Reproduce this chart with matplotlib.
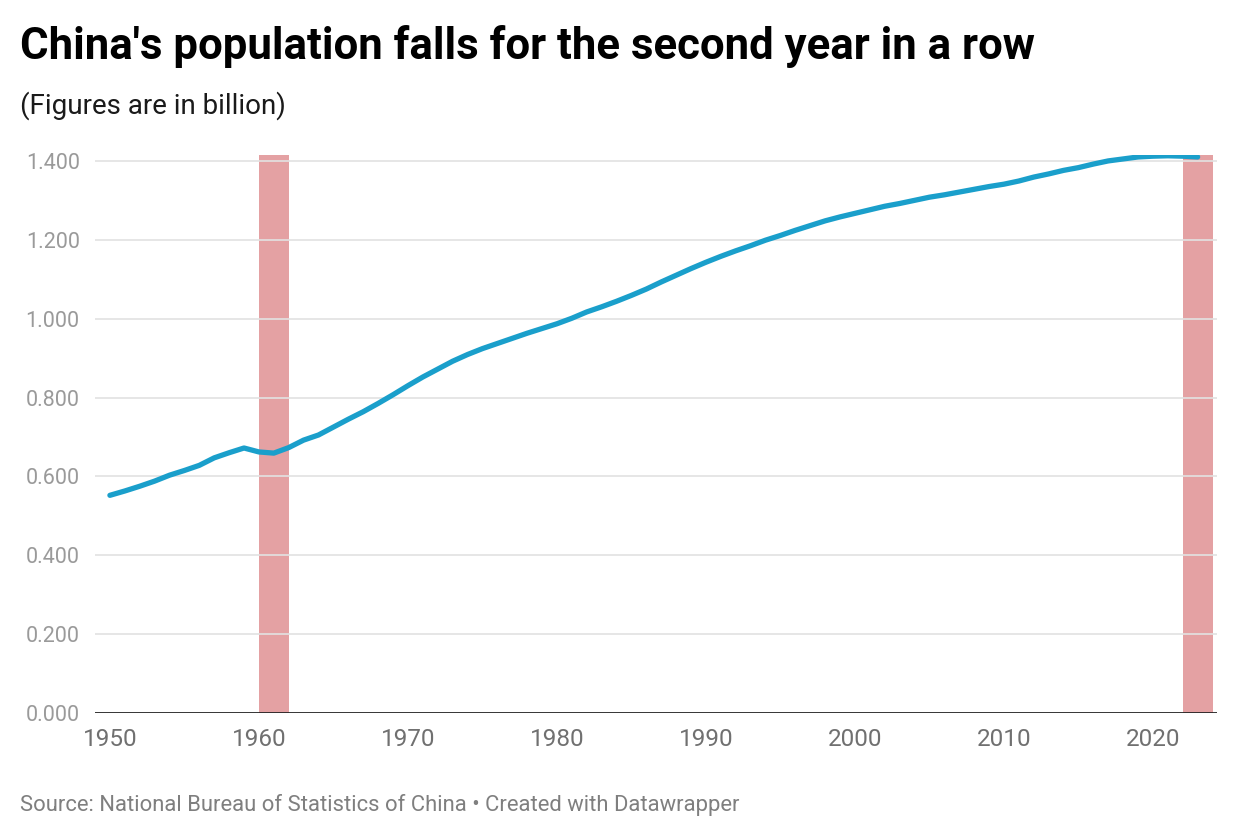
import matplotlib
matplotlib.use("Agg")
import matplotlib.pyplot as plt

# ── Data (NBS, billions) ─────────────────────────────────────────────────────
years = list(range(1950, 2024))
population = [
    0.552, 0.563, 0.575, 0.588, 0.603, 0.615, 0.628, 0.647, 0.660, 0.672,
    0.662, 0.659, 0.673, 0.692, 0.705, 0.725, 0.745, 0.764, 0.785, 0.807,
    0.830, 0.852, 0.872, 0.892, 0.909, 0.924, 0.937, 0.950, 0.963, 0.975,
    0.987, 1.001, 1.017, 1.030, 1.044, 1.059, 1.075, 1.093, 1.110, 1.127,
    1.143, 1.158, 1.172, 1.185, 1.199, 1.211, 1.224, 1.236, 1.248, 1.258,
    1.267, 1.276, 1.285, 1.292, 1.300, 1.308, 1.314, 1.321, 1.328, 1.335,
    1.341, 1.349, 1.359, 1.367, 1.376, 1.383, 1.392, 1.400, 1.405, 1.410,
    1.412, 1.413, 1.412, 1.410,
]
highlight_start = [1960, 2022]
highlight_end = [1962, 2024]
y_ticks = [0.0, 0.2, 0.4, 0.6, 0.8, 1.0, 1.2, 1.4]
x_ticks = [1950, 1960, 1970, 1980, 1990, 2000, 2010, 2020]

title = "China's population falls for the second year in a row"
subtitle = "(Figures are in billion)"
source = "Source: National Bureau of Statistics of China \u2022 Created with Datawrapper"

plt.rcParams["font.family"] = ["Roboto", "DejaVu Sans"]

fig = plt.figure(figsize=(12.4, 8.4), dpi=100)
fig.patch.set_facecolor("white")
ax = fig.add_axes([95 / 1240, 1 - 713 / 840, (1217 - 95) / 1240, (713 - 155) / 840])

# Highlight bands
for x0, x1 in zip(highlight_start, highlight_end):
    ax.axvspan(x0, x1, ymin=0, ymax=1, color="#e4a1a3", lw=0, zorder=1)

# Gridlines
for yv in y_ticks[1:]:
    ax.axhline(yv, color="#e2e2e2", lw=1.2, zorder=2)
ax.axhline(0, color="#222222", lw=2.0, zorder=4)

ax.plot(years, population, color="#1a9fcb", lw=3.8,
        solid_capstyle="round", solid_joinstyle="round", zorder=3)

ax.set_xlim(1949, 2024.3)
ax.set_ylim(0, 1.415)
ax.set_yticks(y_ticks)
ax.set_yticklabels([f"{v:.3f}" for v in y_ticks])
ax.set_xticks(x_ticks)
ax.set_xticklabels([str(x) for x in x_ticks])
ax.tick_params(axis="y", length=0, pad=11, labelsize=15.5, labelcolor="#9a9a9a")
ax.tick_params(axis="x", length=0, pad=11, labelsize=17.5, labelcolor="#707070")
for s in ax.spines.values():
    s.set_visible(False)

fig.text(20 / 1240, 1 - 46 / 840, title, fontsize=31.5, fontweight="bold",
         color="#000000", va="center", ha="left")
fig.text(20 / 1240, 1 - 106 / 840, subtitle, fontsize=20,
         color="#1a1a1a", va="center", ha="left")
fig.text(20 / 1240, 1 - 805 / 840, source, fontsize=15.8,
         color="#7f7f7f", va="center", ha="left")

fig.savefig("out.png", dpi=100, facecolor="white")
